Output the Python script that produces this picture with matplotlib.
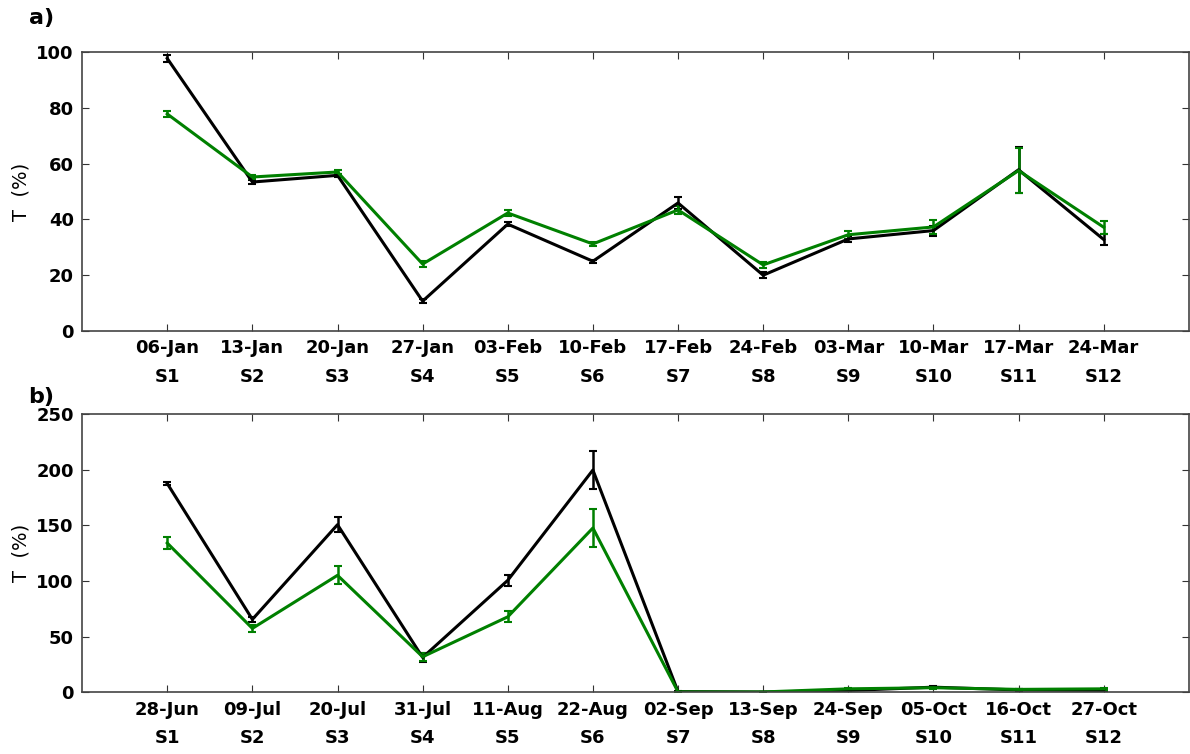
import matplotlib.pyplot as plt
import numpy as np

# panel a) winter campaign
dates_a = ['06-Jan', '13-Jan', '20-Jan', '27-Jan', '03-Feb', '10-Feb',
           '17-Feb', '24-Feb', '03-Mar', '10-Mar', '17-Mar', '24-Mar']
black_a = [97.7, 53.4, 55.8, 10.7, 38.3, 25.0, 45.9, 20.0, 33.0, 36.0, 57.8, 32.8]
black_a_err = [1.2, 0.8, 0.6, 0.6, 0.8, 0.5, 2.0, 1.0, 1.0, 1.8, 8.2, 2.0]
green_a = [77.8, 55.2, 57.0, 24.0, 42.3, 31.2, 43.4, 23.7, 34.5, 37.3, 57.5, 37.2]
green_a_err = [1.0, 0.8, 0.6, 1.0, 1.2, 0.6, 1.5, 1.0, 1.5, 2.5, 8.0, 2.4]

# panel b) summer campaign
dates_b = ['28-Jun', '09-Jul', '20-Jul', '31-Jul', '11-Aug', '22-Aug',
           '02-Sep', '13-Sep', '24-Sep', '05-Oct', '16-Oct', '27-Oct']
black_b = [187.5, 65.4, 150.5, 31.2, 100.5, 199.6, 0.5, 0.1, 1.5, 4.5, 2.0, 1.5]
black_b_err = [1.5, 2.0, 7.0, 4.0, 5.0, 17.0, 0.3, 0.1, 0.5, 0.8, 0.5, 0.5]
green_b = [134.0, 57.3, 105.0, 31.8, 67.7, 147.5, 0.3, 0.2, 3.0, 4.0, 2.5, 3.0]
green_b_err = [5.5, 3.0, 8.0, 3.5, 5.0, 17.0, 0.2, 0.1, 0.6, 0.8, 0.5, 1.0]

samples = ['S%d' % (i + 1) for i in range(12)]
x = np.arange(1, 13)

fig = plt.figure(figsize=(11.9, 7.54), dpi=100)
ax_a = fig.add_axes([0.069, 0.561, 0.930, 0.370])
ax_b = fig.add_axes([0.069, 0.082, 0.930, 0.369])


def draw(ax, bk, bk_err, gr, gr_err, dates, ymax, ystep):
    ax.errorbar(x, bk, yerr=bk_err, color='black', lw=2.2, capsize=3,
                elinewidth=1.8, capthick=1.5)
    ax.errorbar(x, gr, yerr=gr_err, color='green', lw=2.2, capsize=3,
                elinewidth=1.8, capthick=1.5)
    ax.set_xlim(0, 13)
    ax.set_ylim(0, ymax)
    ax.set_xticks(x)
    ax.set_xticklabels(['%s\n%s' % (d, s) for d, s in zip(dates, samples)],
                       fontsize=13, fontweight='bold', linespacing=1.75)
    ax.set_yticks(np.arange(0, ymax + 1, ystep))
    for lab in ax.get_yticklabels():
        lab.set_fontsize(13)
        lab.set_fontweight('bold')
    ax.tick_params(direction='in', top=True, right=True, length=5, width=0.8,
                   color='#333333', pad=6)
    for sp in ax.spines.values():
        sp.set_color('#444444')
        sp.set_linewidth(1.2)
    ax.set_ylabel('T  (%)', fontsize=14, labelpad=4)


draw(ax_a, black_a, black_a_err, green_a, green_a_err, dates_a, 100, 20)
draw(ax_b, black_b, black_b_err, green_b, green_b_err, dates_b, 250, 50)

fig.text(0.024, 0.976, 'a)', fontsize=16, fontweight='bold', va='center')
fig.text(0.024, 0.474, 'b)', fontsize=16, fontweight='bold', va='center')

fig.savefig('out.png', dpi=100)
